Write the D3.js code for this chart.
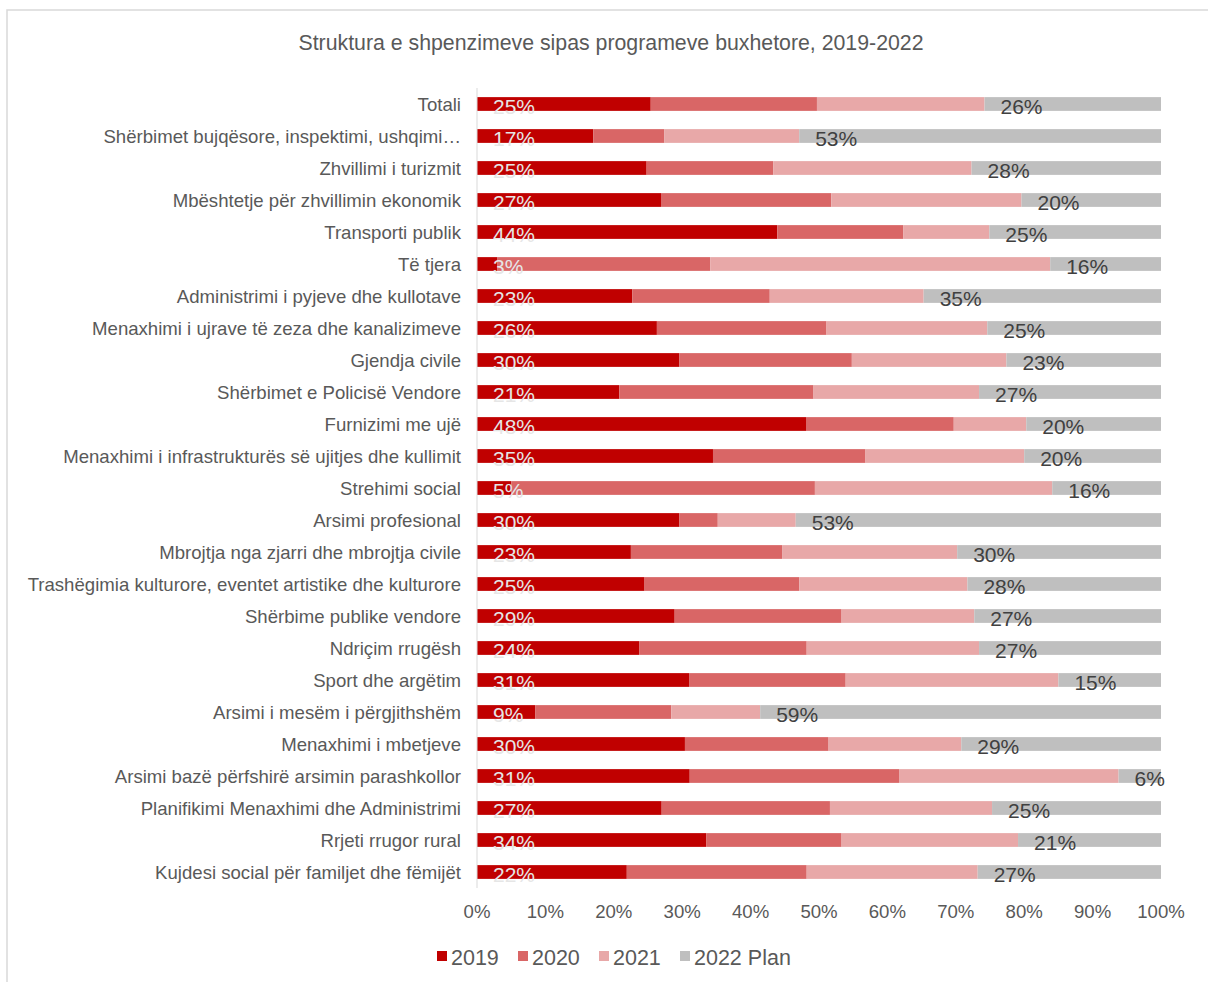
<!DOCTYPE html>
<html>
<head>
<meta charset="utf-8">
<script src="https://cdn.jsdelivr.net/npm/d3@7"></script>
<style>
    body { margin: 0; background: #fff; }
    svg text { font-family: "Liberation Sans", Arial, sans-serif; }
</style>
</head>
<body>
<svg width="1208" height="982"></svg>
<script>
    // categories top to bottom
    var categories = [
        "Totali",
        "Shërbimet bujqësore, inspektimi, ushqimi…",
        "Zhvillimi i turizmit",
        "Mbështetje për zhvillimin ekonomik",
        "Transporti publik",
        "Të tjera",
        "Administrimi i pyjeve dhe kullotave",
        "Menaxhimi i ujrave të zeza dhe kanalizimeve",
        "Gjendja civile",
        "Shërbimet e Policisë Vendore",
        "Furnizimi me ujë",
        "Menaxhimi i infrastrukturës së ujitjes dhe kullimit",
        "Strehimi social",
        "Arsimi profesional",
        "Mbrojtja nga zjarri dhe mbrojtja civile",
        "Trashëgimia kulturore, eventet artistike dhe kulturore",
        "Shërbime publike vendore",
        "Ndriçim rrugësh",
        "Sport dhe argëtim",
        "Arsimi i mesëm i përgjithshëm",
        "Menaxhimi i mbetjeve",
        "Arsimi bazë përfshirë arsimin parashkollor",
        "Planifikimi Menaxhimi dhe Administrimi",
        "Rrjeti rrugor rural",
        "Kujdesi social për familjet dhe fëmijët"
    ];

    var seriesNames = ["2019", "2020", "2021", "2022 Plan"];

    // shares in percent
    var v2019 = [25.4, 17.0, 24.8, 26.9, 43.9, 3.0, 22.7, 26.3, 29.6, 20.8, 48.1, 34.5, 5.0,
                 29.6, 22.5, 24.5, 28.9, 23.7, 31.0, 8.5, 30.4, 31.1, 27.0, 33.5, 21.9];
    var v2020 = [24.3, 10.4, 18.5, 24.9, 18.4, 31.1, 20.1, 24.8, 25.2, 28.4, 21.6, 22.3, 44.4,
                 5.6, 22.1, 22.6, 24.4, 24.5, 22.9, 19.9, 21.0, 30.6, 24.6, 19.8, 26.3];
    var v2021 = [24.5, 19.7, 29.0, 27.8, 12.6, 49.7, 22.5, 23.5, 22.6, 24.2, 10.6, 23.2, 34.7,
                 11.4, 25.6, 24.6, 19.4, 25.2, 31.1, 13.0, 19.4, 32.1, 23.7, 25.8, 25.0];
    var v2022 = [25.8, 52.9, 27.7, 20.4, 25.1, 16.2, 34.7, 25.4, 22.6, 26.6, 19.7, 20.0, 15.9,
                 53.4, 29.8, 28.3, 27.3, 26.6, 15.0, 58.6, 29.2, 6.2, 24.7, 20.9, 26.8];

    var colors = ["#c00000", "#d96666", "#e8a8a8", "#bfbfbf"];
    var xTicks = [0, 10, 20, 30, 40, 50, 60, 70, 80, 90, 100];

    var rows = categories.map(function(c, i) {
        return { cat: c, "2019": v2019[i], "2020": v2020[i], "2021": v2021[i], "2022 Plan": v2022[i] };
    });

    var svg = d3.select("svg");

    // outer chart frame (cut off at right and bottom)
    svg.append("rect")
        .attr("x", 7).attr("y", 10)
        .attr("width", 1300).attr("height", 1100)
        .attr("fill", "none")
        .attr("stroke", "#d9d9d9")
        .attr("stroke-width", 1.5);

    svg.append("text")
        .attr("x", 611).attr("y", 50)
        .attr("text-anchor", "middle")
        .attr("fill", "#595959")
        .style("font-size", "21.3px")
        .text("Struktura e shpenzimeve sipas programeve buxhetore, 2019-2022");

    var x = d3.scaleLinear().domain([0, 100]).range([477, 1161]);
    var y = d3.scaleBand().domain(categories).range([88, 888]).paddingInner(0.57).paddingOuter(0.285);

    var stacked = d3.stack().keys(seriesNames)(rows);

    var layers = svg.append("g").selectAll("g")
        .data(stacked)
        .join("g")
        .attr("fill", function(d, i) { return colors[i]; });

    layers.selectAll("rect")
        .data(function(d) { return d; })
        .join("rect")
        .attr("x", function(d) { return x(d[0]); })
        .attr("y", function(d) { return y(d.data.cat); })
        .attr("width", function(d) { return x(d[1]) - x(d[0]); })
        .attr("height", y.bandwidth());

    // category axis line
    svg.append("line")
        .attr("x1", 477).attr("x2", 477)
        .attr("y1", 88).attr("y2", 888)
        .attr("stroke", "#d9d9d9");

    // category labels
    svg.append("g").selectAll("text")
        .data(categories)
        .join("text")
        .attr("x", 461)
        .attr("y", function(d) { return y(d) + y.bandwidth() / 2 + 6.5; })
        .attr("text-anchor", "end")
        .attr("fill", "#595959")
        .style("font-size", "18.6px")
        .text(function(d) { return d; });

    // x tick labels
    svg.append("g").selectAll("text")
        .data(xTicks)
        .join("text")
        .attr("x", function(d) { return x(d); })
        .attr("y", 917.5)
        .attr("text-anchor", "middle")
        .attr("fill", "#595959")
        .style("font-size", "18.6px")
        .text(function(d) { return d + "%"; });

    // data labels: 2019 (first layer) and 2022 Plan (last layer), inside base
    [[0, "#e6e6e6"], [3, "#404040"]].forEach(function(p) {
        svg.append("g").selectAll("text")
            .data(stacked[p[0]])
            .join("text")
            .attr("x", function(d) { return x(d[0]) + 16; })
            .attr("y", function(d) { return y(d.data.cat) + y.bandwidth() / 2 + 9.5; })
            .attr("fill", p[1])
            .style("font-size", "21px")
            .text(function(d) { return Math.round(d[1] - d[0]) + "%"; });
    });

    // legend
    var legendX = [437, 518, 599, 680];
    var legend = svg.append("g").selectAll("g")
        .data(seriesNames)
        .join("g")
        .attr("transform", function(d, i) { return "translate(" + legendX[i] + ",951)"; });
    legend.append("rect")
        .attr("width", 10).attr("height", 10)
        .attr("fill", function(d, i) { return colors[i]; });
    legend.append("text")
        .attr("x", 14).attr("y", 13.5)
        .attr("fill", "#595959")
        .style("font-size", "21.5px")
        .text(function(d) { return d; });
</script>
</body>
</html>
